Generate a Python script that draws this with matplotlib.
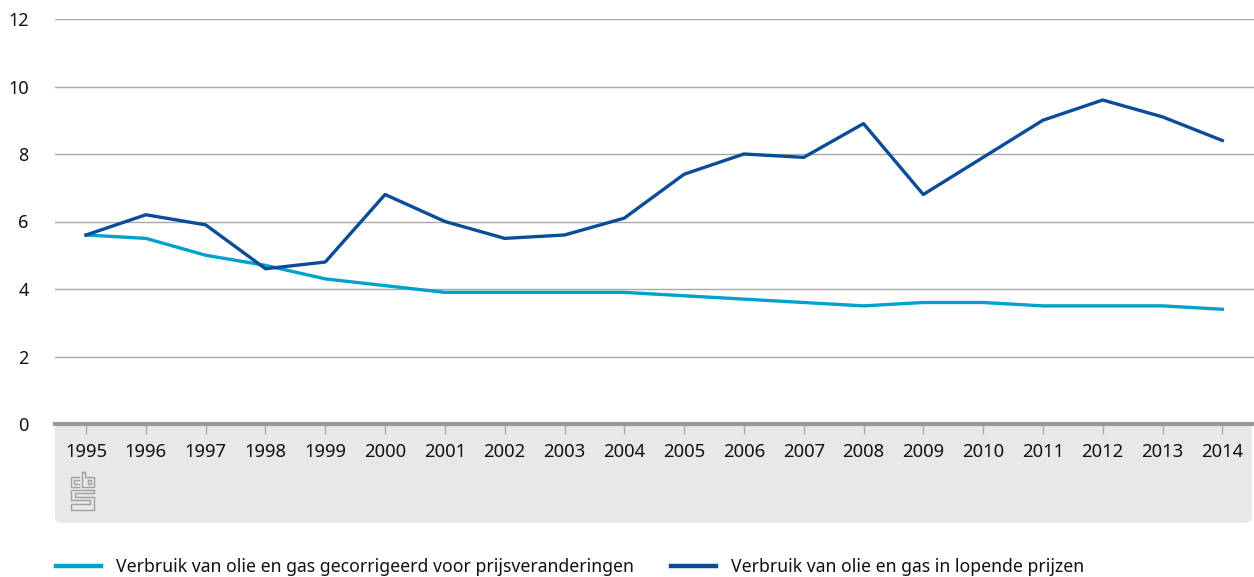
import matplotlib.pyplot as plt
import matplotlib.patches as mpatches
from matplotlib.lines import Line2D

plt.rcParams['font.family'] = ['Noto Sans', 'DejaVu Sans']

years = list(range(1995, 2015))
gecorrigeerd = [5.6, 5.5, 5.0, 4.7, 4.3, 4.1, 3.9, 3.9, 3.9, 3.9,
                3.8, 3.7, 3.6, 3.5, 3.6, 3.6, 3.5, 3.5, 3.5, 3.4]
lopend = [5.6, 6.2, 5.9, 4.6, 4.8, 6.8, 6.0, 5.5, 5.6, 6.1,
          7.4, 8.0, 7.9, 8.9, 6.8, 7.9, 9.0, 9.6, 9.1, 8.4]
yticks = [0, 2, 4, 6, 8, 10, 12]
labels = ['Verbruik van olie en gas gecorrigeerd voor prijsveranderingen',
          'Verbruik van olie en gas in lopende prijzen']

W, H = 1254, 577
fig = plt.figure(figsize=(W / 100, H / 100), dpi=100)

# grey band under the x axis
band = mpatches.FancyBboxPatch((55 / W, (H - 523) / H), (W - 57) / W, 99 / H,
                               boxstyle='round,pad=0,rounding_size=0.008',
                               transform=fig.transFigure, facecolor='#e8e8e8',
                               edgecolor='none', zorder=-5)
fig.patches.append(band)

ax = fig.add_axes([55 / W, (H - 424) / H, (W - 55) / W, (424 - 19) / H])
ax.patch.set_alpha(0)

light = '#00a1cd'
dark = '#0b4c98'
ax.plot(years, gecorrigeerd, color=light, lw=2.4)
ax.plot(years, lopend, color=dark, lw=2.4)

ax.set_xlim(1994.48, 2014.53)
ax.set_ylim(0, 12)
ax.set_yticks(yticks)
ax.set_xticks(years)
ax.grid(axis='y', color='#a8a8a8', lw=1)
ax.set_axisbelow(True)
for s in ['top', 'right', 'left']:
    ax.spines[s].set_visible(False)
ax.spines['bottom'].set_color('#999999')
ax.spines['bottom'].set_linewidth(3)
ax.tick_params(axis='y', length=0, pad=19, labelsize=13, labelcolor='#111111')
ax.tick_params(axis='x', length=7, width=1, color='#aaaaaa', pad=7,
               labelsize=13.3, labelcolor='#111111')

# simple cbs logo
def px(x, y):
    return x / W, (H - y) / H

logo = [
    # c
    [(79, 477), (71, 477), (71, 487), (79, 487)],
    [(79, 480), (74, 480), (74, 484), (79, 484)],
    # b
    [(82, 472), (82, 487), (94, 487), (94, 477), (85, 477), (85, 472), (82, 472)],
    [(88, 480), (91, 480), (91, 484), (88, 484), (88, 480)],
    # s
    [(94, 490), (71, 490), (71, 500), (90, 500), (90, 504), (71, 504), (71, 510), (94, 510), (94, 497), (75, 497), (75, 493), (94, 493), (94, 490)],
]
for seg in logo:
    xs, ys = zip(*[px(a, b) for a, b in seg])
    fig.lines.append(Line2D(xs, ys, transform=fig.transFigure,
                            color='#a0a0a0', lw=1.0))

handles = [Line2D([], [], color=light, lw=3.2), Line2D([], [], color=dark, lw=3.2)]
fig.legend(handles, labels, loc='center left', bbox_to_anchor=(56 / W, (H - 567) / H),
           ncol=2, frameon=False, fontsize=12.7, handlelength=2.55, borderpad=0,
           borderaxespad=0, handletextpad=0.85, columnspacing=2.1,
           labelcolor='#111111')

fig.savefig('out.png', dpi=100)
